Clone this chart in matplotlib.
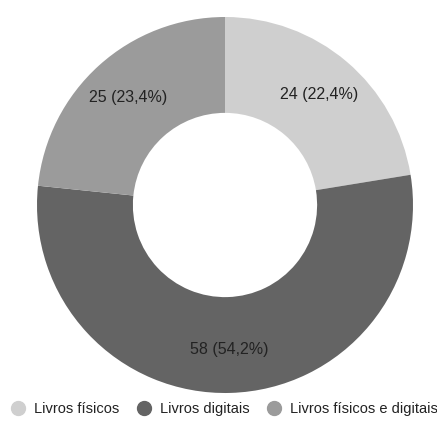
import matplotlib
matplotlib.use("Agg")
import matplotlib.pyplot as plt
from matplotlib.lines import Line2D

plt.rcParams['font.family'] = ['Liberation Sans', 'DejaVu Sans']

categories = ["Livros físicos", "Livros digitais", "Livros físicos e digitais"]
values = [24, 58, 25]
labels = ["24 (22,4%)", "58 (54,2%)", "25 (23,4%)"]
colors = ["#cfcfcf", "#646464", "#9b9b9b"]

W, H = 437, 421
fig = plt.figure(figsize=(W / 100, H / 100), dpi=100)
ax = fig.add_axes([0, 0, 1, 1])
ax.set_xlim(0, W)
ax.set_ylim(0, H)
ax.set_aspect('equal')
ax.axis('off')

wedges, texts = ax.pie(
    values, colors=colors, labels=labels, startangle=90, counterclock=False,
    center=(225, H - 205), radius=188, labeldistance=0.77,
    wedgeprops=dict(width=188 * 0.51, linewidth=0),
    textprops=dict(fontsize=11.5, color="#222222", ha='center', va='center'),
)
ax.set_xlim(0, W)
ax.set_ylim(0, H)

handles = [Line2D([], [], marker='o', linestyle='none', markersize=10,
                  markerfacecolor=c, markeredgecolor=c) for c in colors]
fig.legend(handles, categories, loc='center', bbox_to_anchor=(0.513, 1 - 409 / H),
           ncol=3, frameon=False, fontsize=10.5, handletextpad=0.6,
           columnspacing=1.2, handlelength=1.0, borderpad=0, borderaxespad=0,
           labelcolor="#222222")

fig.savefig("out.png", dpi=100)
